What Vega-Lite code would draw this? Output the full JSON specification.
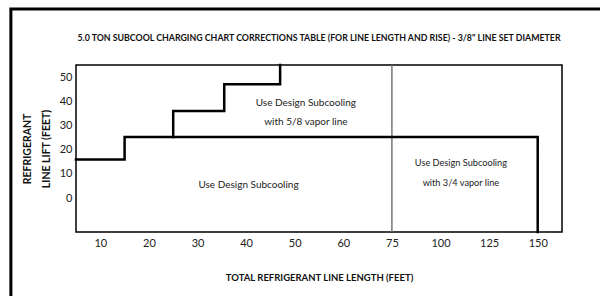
{
  "$schema": "https://vega.github.io/schema/vega-lite/v6.json",
  "width": 486,
  "height": 167,
  "autosize": {"type": "none"},
  "padding": {"left": 76, "top": 65, "right": 38, "bottom": 64},
  "background": "white",
  "title": {
    "text": "5.0 TON SUBCOOL CHARGING CHART CORRECTIONS TABLE (FOR LINE LENGTH AND RISE) - 3/8\" LINE SET DIAMETER",
    "font": "Lato",
    "fontSize": 8.8,
    "fontWeight": "bold",
    "color": "#111",
    "anchor": "middle",
    "offset": -35
  },
  "config": {
    "font": "Lato",
    "view": {"stroke": "#000", "strokeWidth": 1.5},
    "axis": {"grid": false, "ticks": false, "domain": false, "labelColor": "#222", "titleColor": "#111", "labelFont": "Lato", "titleFont": "Lato", "labelOverlap": false},
    "axisY": {"labelOverlap": false}
  },
  "datasets": {
    "steps": [
      {"path": "a", "i": 0, "len": 5, "lift": 16},
      {"path": "a", "i": 1, "len": 15, "lift": 16},
      {"path": "a", "i": 2, "len": 15, "lift": 25.3},
      {"path": "a", "i": 3, "len": 150, "lift": 25.3},
      {"path": "a", "i": 4, "len": 150, "lift": -14},
      {"path": "b", "i": 0, "len": 25, "lift": 25.3},
      {"path": "b", "i": 1, "len": 25, "lift": 36},
      {"path": "b", "i": 2, "len": 35.5, "lift": 36},
      {"path": "b", "i": 3, "len": 35.5, "lift": 47},
      {"path": "b", "i": 4, "len": 47, "lift": 47},
      {"path": "b", "i": 5, "len": 47, "lift": 55}
    ],
    "divider": [{"len": 75}],
    "labels": [
      {"len": 40.5, "lift": 5.4, "label": "Use Design Subcooling", "grp": "big"},
      {"len": 52.3, "lift": 39.3, "label": "Use Design Subcooling\nwith 5/8 vapor line", "grp": "big"},
      {"len": 110.5, "lift": 14.5, "label": "Use Design Subcooling\nwith 3/4 vapor line", "grp": "small"}
    ]
  },
  "layer": [
    {
      "data": {"values": [{}]},
      "mark": {"type": "rect", "filled": false, "stroke": "#000", "strokeWidth": 3},
      "encoding": {
        "x": {"datum": -8.4, "type": "quantitative", "scale": {"domain": [5, 60, 75, 150, 162.5], "range": [0, 267.3, 315.9, 461.7, 486], "nice": false, "zero": false},
          "axis": {"values": [10, 20, 30, 40, 50, 60, 75, 100, 125, 150], "labelFontSize": 11, "labelPadding": 5, "labelFlush": false,
            "title": "TOTAL REFRIGERANT LINE LENGTH (FEET)", "titleFontSize": 9.5, "titleFontWeight": "bold", "titlePadding": 24}},
        "x2": {"datum": 220},
        "y": {"datum": 78.1, "type": "quantitative", "scale": {"domain": [-14, 55], "nice": false, "zero": false},
          "axis": {"values": [0, 10, 20, 30, 40, 50], "labelFontSize": 11, "labelPadding": 4, "labelOverlap": false, "tickCount": 6,
            "title": ["REFRIGERANT", "LINE LIFT (FEET)"], "titleFontSize": 10.5, "titleFontWeight": "bold", "titleLineHeight": 19, "titlePadding": 8}},
        "y2": {"datum": -80}
      }
    },
    {
      "data": {"name": "divider"},
      "mark": {"type": "rule", "stroke": "#777", "strokeWidth": 1.5},
      "encoding": {
        "x": {"field": "len", "type": "quantitative"}
      }
    },
    {
      "data": {"name": "steps"},
      "mark": {"type": "line", "stroke": "#000", "strokeWidth": 2.5, "strokeJoin": "miter", "strokeCap": "square"},
      "encoding": {
        "x": {"field": "len", "type": "quantitative"},
        "y": {"field": "lift", "type": "quantitative"},
        "detail": {"field": "path"},
        "order": {"field": "i"}
      }
    },
    {
      "data": {"name": "labels"},
      "transform": [{"filter": "datum.grp === 'big'"}],
      "mark": {"type": "text", "fontSize": 10, "lineBreak": "\n", "lineHeight": 19.5, "color": "#222", "align": "center", "baseline": "middle"},
      "encoding": {
        "x": {"field": "len", "type": "quantitative"},
        "y": {"field": "lift", "type": "quantitative"},
        "text": {"field": "label"}
      }
    },
    {
      "data": {"name": "labels"},
      "transform": [{"filter": "datum.grp === 'small'"}],
      "mark": {"type": "text", "fontSize": 9.2, "lineBreak": "\n", "lineHeight": 19.5, "color": "#222", "align": "center", "baseline": "middle"},
      "encoding": {
        "x": {"field": "len", "type": "quantitative"},
        "y": {"field": "lift", "type": "quantitative"},
        "text": {"field": "label"}
      }
    }
  ]
}
